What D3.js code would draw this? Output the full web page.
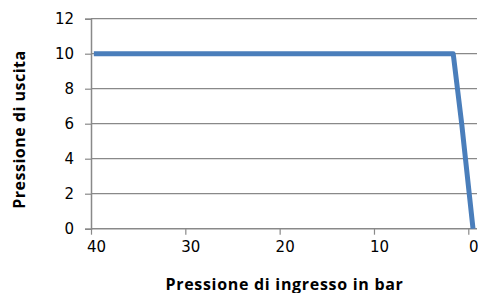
<!DOCTYPE html>
<html>
<head>
<meta charset="utf-8">
<script src="https://cdn.jsdelivr.net/npm/d3@7"></script>
<style>
  body { margin: 0; background: #fff; }
</style>
</head>
<body>
<svg id="chart" width="478" height="293"></svg>
<script>
// data
var inletPressure = [39.7, 1.6, 0.7, -0.5];
var outletPressure = [10, 10, 6, 0];
var xTicks = [40, 30, 20, 10, 0];
var yTicks = [0, 2, 4, 6, 8, 10, 12];

var data = inletPressure.map(function(x, i) { return { x: x, y: outletPressure[i] }; });

var svg = d3.select("#chart");

// x axis is reversed: 40 on the left, 0 on the right
var xScale = d3.scaleLinear()
    .domain([40, 0])
    .range([91, 468.3]);

var yScale = d3.scaleLinear()
    .domain([0, 12])
    .range([228.7, 18.7]);

var gridRight = 477;
var axisColor = "#898989";

// horizontal gridlines
svg.append("g")
    .selectAll("line")
    .data(yTicks.filter(function(d) { return d > 0; }))
    .enter().append("line")
    .attr("x1", xScale(40))
    .attr("x2", gridRight)
    .attr("y1", function(d) { return yScale(d); })
    .attr("y2", function(d) { return yScale(d); })
    .attr("stroke", axisColor)
    .attr("stroke-width", 1.2);

// y axis
var yAxis = svg.append("g")
    .attr("transform", "translate(" + xScale(40) + ",0)")
    .call(d3.axisLeft(yScale).tickValues(yTicks).tickSize(6).tickPadding(11));
yAxis.select(".domain").attr("stroke", axisColor).attr("stroke-width", 1.5);
yAxis.selectAll(".tick line").attr("stroke", axisColor).attr("stroke-width", 1.2);
yAxis.selectAll("text")
    .style("font-family", "DejaVu Sans, sans-serif")
    .style("font-size", "15px")
    .attr("fill", "#000");

// x axis
var xAxis = svg.append("g")
    .attr("transform", "translate(0," + yScale(0) + ")")
    .call(d3.axisBottom(xScale).tickValues(xTicks).tickSizeInner(6).tickSizeOuter(0).tickPadding(7));
xAxis.select(".domain").attr("d", "M" + xScale(40) + ",0H" + gridRight)
    .attr("stroke", axisColor).attr("stroke-width", 1.5);
xAxis.selectAll(".tick line").attr("stroke", axisColor).attr("stroke-width", 1.2);
xAxis.selectAll("text")
    .attr("dx", 5)
    .style("font-family", "DejaVu Sans, sans-serif")
    .style("font-size", "15px")
    .attr("fill", "#000");

// the line
var line = d3.line()
    .x(function(d) { return xScale(d.x); })
    .y(function(d) { return yScale(d.y); });

svg.append("path")
    .datum(data)
    .attr("d", line)
    .attr("fill", "none")
    .attr("stroke", "#4a7ebb")
    .attr("stroke-width", 5)
    .attr("stroke-linejoin", "round");

// axis titles
svg.append("text")
    .attr("x", 284.5)
    .attr("y", 289.5)
    .style("text-anchor", "middle")
    .style("font-family", "Open Sans, sans-serif")
    .style("font-weight", "bold")
    .style("font-size", "16px")
    .style("letter-spacing", "0.7px")
    .text("Pressione di ingresso in bar");

svg.append("text")
    .attr("transform", "translate(25,129.5) rotate(-90)")
    .style("text-anchor", "middle")
    .style("font-family", "Open Sans, sans-serif")
    .style("font-weight", "bold")
    .style("font-size", "16px")
    .style("letter-spacing", "0.5px")
    .text("Pressione di uscita");
</script>
</body>
</html>
